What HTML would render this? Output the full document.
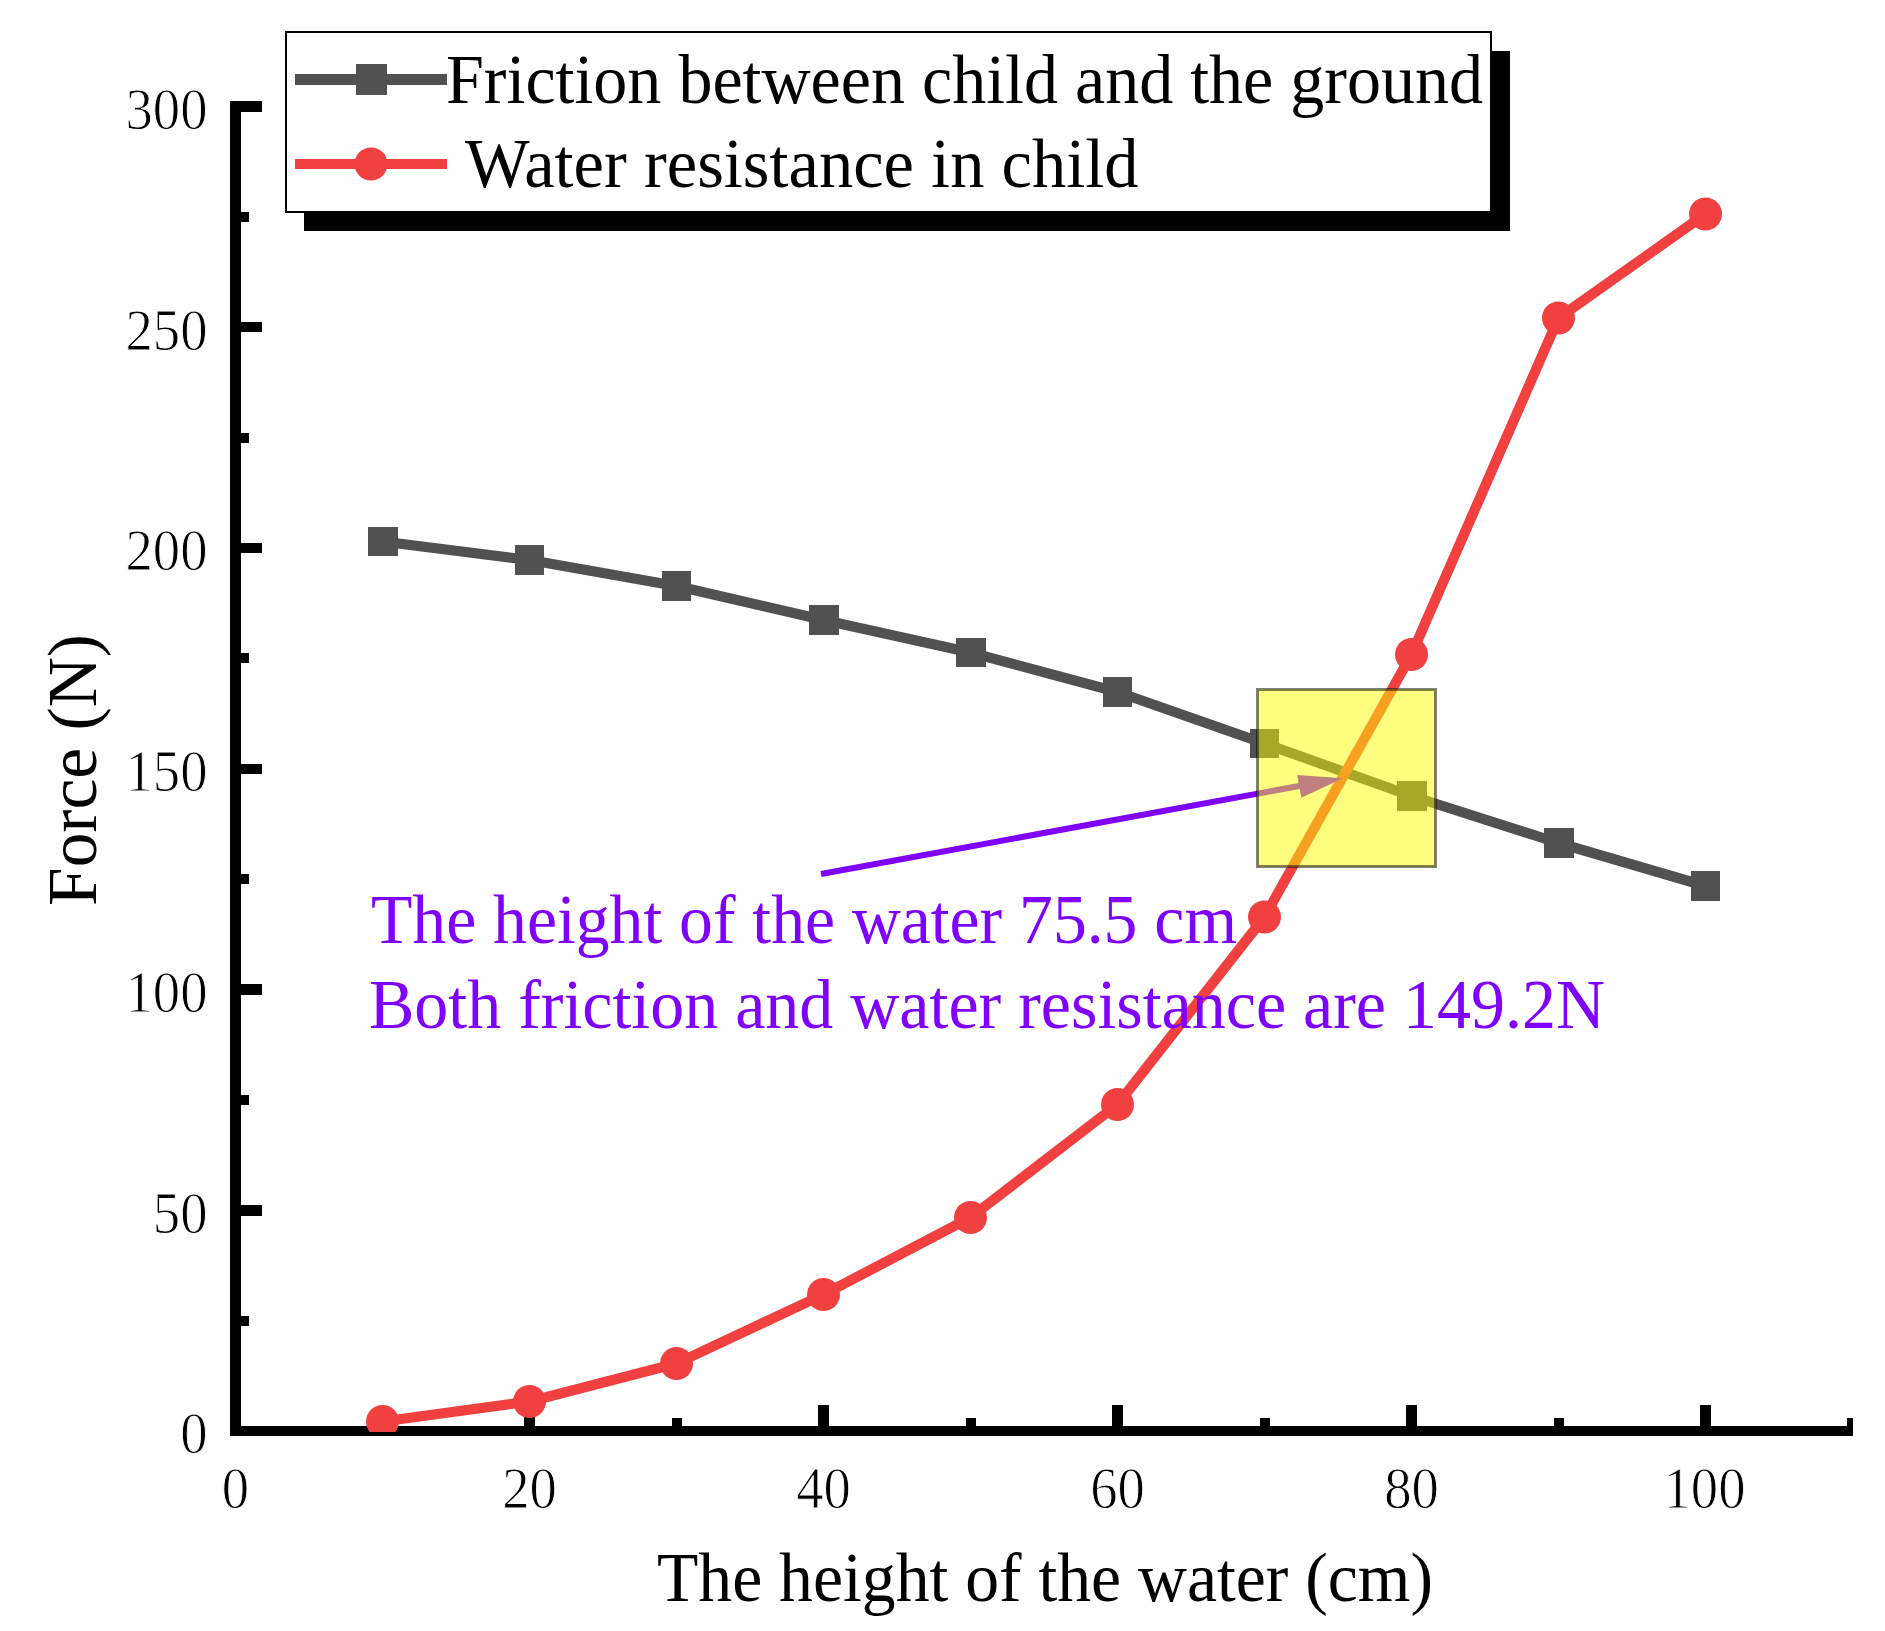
<!DOCTYPE html>
<html lang="en"><head><meta charset="utf-8"><title>Force vs height of the water</title>
<style>html,body{margin:0;padding:0;background:#fff}svg{display:block}text{font-family:"Liberation Serif","Times New Roman",serif}</style></head><body>
<svg width="1885" height="1631" viewBox="0 0 1885 1631">
<rect width="1885" height="1631" fill="#fff"/>
<defs><clipPath id="plot"><rect x="236" y="0" width="1649" height="1432"/></clipPath></defs>
<g fill="#000" shape-rendering="crispEdges">
<rect x="236" y="1205" width="26" height="11"/>
<rect x="236" y="984" width="26" height="11"/>
<rect x="236" y="764" width="26" height="10"/>
<rect x="236" y="543" width="26" height="10"/>
<rect x="236" y="322" width="26" height="10"/>
<rect x="236" y="101" width="26" height="11"/>
<rect x="236" y="1316" width="13" height="10"/>
<rect x="236" y="1095" width="13" height="10"/>
<rect x="236" y="874" width="13" height="10"/>
<rect x="236" y="653" width="13" height="10"/>
<rect x="236" y="433" width="13" height="10"/>
<rect x="236" y="212" width="13" height="10"/>
<rect x="524" y="1405" width="11" height="26"/>
<rect x="818" y="1405" width="11" height="26"/>
<rect x="1112" y="1405" width="11" height="26"/>
<rect x="1406" y="1405" width="11" height="26"/>
<rect x="1700" y="1405" width="11" height="26"/>
<rect x="378" y="1418" width="10" height="13"/>
<rect x="672" y="1418" width="10" height="13"/>
<rect x="966" y="1418" width="10" height="13"/>
<rect x="1260" y="1418" width="10" height="13"/>
<rect x="1554" y="1418" width="10" height="13"/>
<rect x="1847" y="1418" width="6" height="13"/>
</g>
<g fill="#000" shape-rendering="crispEdges">
<rect x="230" y="101" width="11" height="1335"/>
<rect x="230" y="1426" width="1623" height="10"/>
</g>
<g clip-path="url(#plot)">
<polyline points="382.5,541.5 529.5,560 676.5,586 823.5,620 970.5,652.5 1117.5,692 1264.5,743.5 1411.5,796 1558.5,843 1705.5,886" fill="none" stroke="#515151" stroke-width="10.2" stroke-linejoin="round"/>
<rect x="368" y="527" width="30" height="29" fill="#515151" shape-rendering="crispEdges"/>
<rect x="515" y="545" width="29" height="30" fill="#515151" shape-rendering="crispEdges"/>
<rect x="662" y="571" width="29" height="30" fill="#515151" shape-rendering="crispEdges"/>
<rect x="809" y="605" width="30" height="30" fill="#515151" shape-rendering="crispEdges"/>
<rect x="956" y="638" width="30" height="29" fill="#515151" shape-rendering="crispEdges"/>
<rect x="1103" y="677" width="29" height="30" fill="#515151" shape-rendering="crispEdges"/>
<rect x="1250" y="729" width="29" height="29" fill="#515151" shape-rendering="crispEdges"/>
<rect x="1397" y="781" width="30" height="30" fill="#515151" shape-rendering="crispEdges"/>
<rect x="1544" y="828" width="30" height="30" fill="#515151" shape-rendering="crispEdges"/>
<rect x="1691" y="871" width="29" height="30" fill="#515151" shape-rendering="crispEdges"/>
<polyline points="382.5,1421.5 529.5,1401.5 676.5,1363.5 823.5,1294.5 970.5,1217.5 1117.5,1104.5 1264.5,917 1411.5,654.5 1558.5,318 1705.5,214" fill="none" stroke="#F14040" stroke-width="10.2" stroke-linejoin="round"/>
<circle cx="382.5" cy="1421.5" r="16.5" fill="#F14040"/>
<circle cx="529.5" cy="1401.5" r="16.5" fill="#F14040"/>
<circle cx="676.5" cy="1363.5" r="16.5" fill="#F14040"/>
<circle cx="823.5" cy="1294.5" r="16.5" fill="#F14040"/>
<circle cx="970.5" cy="1217.5" r="16.5" fill="#F14040"/>
<circle cx="1117.5" cy="1104.5" r="16.5" fill="#F14040"/>
<circle cx="1264.5" cy="917" r="16.5" fill="#F14040"/>
<circle cx="1411.5" cy="654.5" r="16.5" fill="#F14040"/>
<circle cx="1558.5" cy="318" r="16.5" fill="#F14040"/>
<circle cx="1705.5" cy="214" r="16.5" fill="#F14040"/>
<line x1="821" y1="874" x2="1310" y2="784" stroke="#7F00FF" stroke-width="6"/>
<polygon points="1343,778.2 1297.2,775 1301.3,797.8" fill="#7F00FF"/>
</g>
<rect x="1257" y="689" width="179" height="178" fill="#FFFF00" fill-opacity="0.5" shape-rendering="crispEdges"/>
<rect x="1257.5" y="689.5" width="178" height="177" fill="none" stroke="#000" stroke-opacity="0.5" stroke-width="3" shape-rendering="crispEdges"/>
<g fill="#7F00FF" font-size="70px">
<text x="371" y="943" textLength="866" lengthAdjust="spacingAndGlyphs">The height of the water 75.5 cm</text>
<text x="369" y="1027.5" textLength="1236" lengthAdjust="spacingAndGlyphs">Both friction and water resistance are 149.2N</text>
</g>
<g shape-rendering="crispEdges"><rect x="304" y="51" width="1206" height="180" fill="#000"/>
<rect x="286" y="32" width="1205" height="180" fill="#fff" stroke="#000" stroke-width="2"/></g>
<rect x="295" y="74" width="152" height="11" fill="#515151"/><rect x="356" y="64" width="31" height="31" fill="#515151"/>
<rect x="295" y="159" width="152" height="10" fill="#F14040"/><circle cx="371" cy="164" r="16.5" fill="#F14040"/>
<g fill="#000" font-size="70px">
<text x="446" y="103" textLength="1037" lengthAdjust="spacingAndGlyphs">Friction between child and the ground</text>
<text x="465" y="187" textLength="673.5" lengthAdjust="spacingAndGlyphs">Water resistance in child</text>
</g>
<g fill="#000" font-size="58.5px" stroke="#fff" stroke-width="0.9">
<text transform="translate(207.5,1453.4) scale(0.935,1)" text-anchor="end">0</text>
<text transform="translate(207.5,1232.7) scale(0.935,1)" text-anchor="end">50</text>
<text transform="translate(207.5,1011.9) scale(0.935,1)" text-anchor="end">100</text>
<text transform="translate(207.5,791.1) scale(0.935,1)" text-anchor="end">150</text>
<text transform="translate(207.5,570.4) scale(0.935,1)" text-anchor="end">200</text>
<text transform="translate(207.5,349.6) scale(0.935,1)" text-anchor="end">250</text>
<text transform="translate(207.5,128.9) scale(0.935,1)" text-anchor="end">300</text>
<text transform="translate(235.5,1508.3) scale(0.935,1)" text-anchor="middle">0</text>
<text transform="translate(529.5,1508.3) scale(0.935,1)" text-anchor="middle">20</text>
<text transform="translate(823.5,1508.3) scale(0.935,1)" text-anchor="middle">40</text>
<text transform="translate(1117.5,1508.3) scale(0.935,1)" text-anchor="middle">60</text>
<text transform="translate(1411.5,1508.3) scale(0.935,1)" text-anchor="middle">80</text>
<text transform="translate(1704.5,1508.3) scale(0.935,1)" text-anchor="middle">100</text>
</g>
<g fill="#000" font-size="70px">
<text x="657" y="1601" textLength="776" lengthAdjust="spacingAndGlyphs">The height of the water (cm)</text>
<text transform="translate(96,906) rotate(-90)" x="0" y="0" textLength="272" lengthAdjust="spacingAndGlyphs">Force (N)</text>
</g>
</svg></body></html>
